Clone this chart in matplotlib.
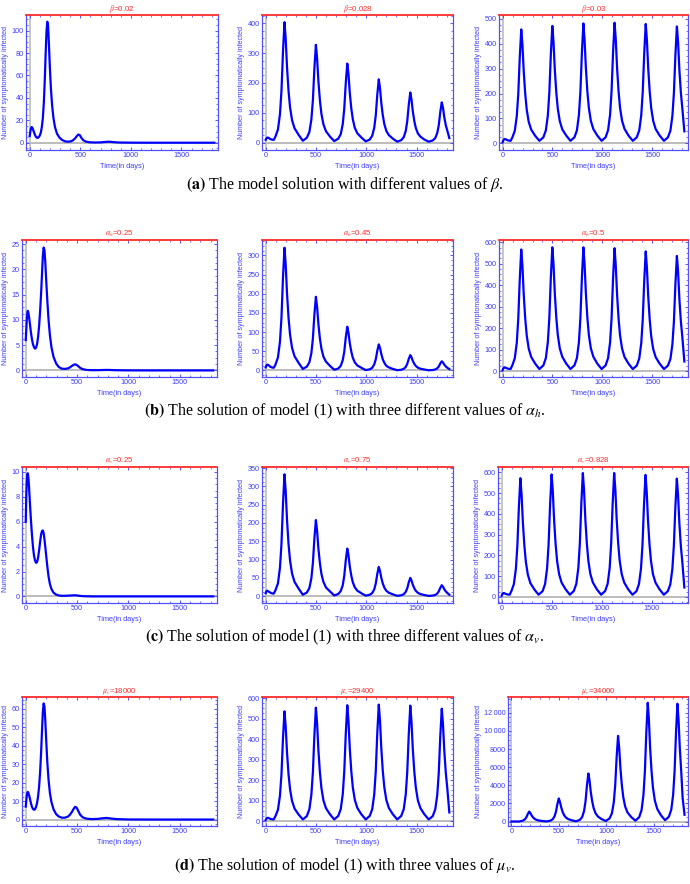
import matplotlib
matplotlib.use("Agg")
import matplotlib.pyplot as plt
from matplotlib.ticker import MultipleLocator, AutoMinorLocator, FuncFormatter

plt.rcParams["font.family"] = ["Liberation Sans", "DejaVu Sans"]
plt.rcParams["mathtext.fontset"] = "stix"

# time grid for the oscillating runs (denser around each outbreak peak)
t_cycle = [0, 6, 14, 22, 32, 45, 60, 80,
           97, 122, 142, 157, 172, 187, 199, 212, 227, 242, 262, 287, 327,
           369, 409, 434, 454, 469, 484, 499, 511, 524, 539, 554, 574, 599, 639,
           681, 721, 746, 766, 781, 796, 811, 823, 836, 851, 866, 886, 911, 951,
           994, 1034, 1059, 1079, 1094, 1109, 1124, 1136, 1149, 1164, 1179, 1199, 1224, 1264,
           1307, 1347, 1372, 1392, 1407, 1422, 1437, 1449, 1462, 1477, 1492, 1512, 1537, 1577,
           1620, 1660, 1685, 1705, 1720, 1735, 1750, 1762, 1775, 1790, 1805, 1825]

# time grid for the runs that die out
t_fade = [0, 5, 10, 15, 20, 25, 32, 40, 50, 60, 70, 80, 90, 100, 110, 120, 130, 140, 150, 158,
          166, 174, 182, 190, 200, 210, 222, 235, 250, 270, 295, 320, 350, 380, 410, 430, 450, 465,
          480, 495, 510, 530, 555, 590, 640, 700, 750, 780, 800, 830, 880, 1000, 1200, 1500, 1825]

# (a) beta
beta_002 = [6, 9, 12, 13.5, 14, 13.5, 12, 10, 7.5, 5.5, 4.5, 4.3, 5, 6.5, 9, 14, 22, 36, 58, 80,
            99, 108, 104, 88, 66, 48, 33, 22, 14, 8, 4.5, 2.5, 1.2, 0.9, 1.3, 2.3, 4, 5.8,
            7.3, 6.8, 4.5, 2.2, 1, 0.4, 0.2, 0.3, 0.7, 0.9, 0.8, 0.5, 0.2, 0.05, 0, 0, 0]
beta_0028 = [9, 13, 16, 17, 15, 12, 10, 9,
             20, 44, 95, 174, 305, 404, 349, 254, 174, 119, 75, 48, 26,
             6, 16, 35, 77, 141, 248, 328, 283, 206, 141, 96, 61, 38, 20,
             5, 13, 28, 62, 114, 200, 265, 229, 166, 114, 78, 49, 31, 17,
             4, 10, 23, 50, 91, 160, 212, 183, 133, 91, 62, 39, 25, 13,
             3, 8, 18, 39, 72, 127, 168, 145, 105, 72, 49, 31, 20, 10,
             3, 7, 15, 32, 58, 102, 135, 117, 85, 58, 40, 15]
beta_003 = [4, 11, 16, 17, 16, 13, 11, 10,
            23, 50, 109, 198, 346, 458, 395, 288, 198, 135, 86, 55, 30,
            10, 24, 52, 112, 204, 357, 472, 407, 296, 204, 139, 89, 56, 31,
            10, 24, 52, 114, 208, 364, 482, 416, 303, 208, 142, 90, 57, 31,
            10, 24, 53, 115, 210, 366, 485, 419, 305, 210, 143, 91, 58, 31,
            10, 24, 52, 113, 207, 363, 480, 414, 301, 207, 142, 90, 57, 31,
            10, 24, 51, 111, 203, 355, 470, 406, 295, 203, 139, 48]

# (b) alpha_h
alpha_h_025 = [6, 8, 10, 11.3, 11.8, 11.5, 10.6, 9.3, 7.6, 6.2, 5.2, 4.6, 4.3, 4.5, 5.2, 6.6, 8.8, 11.8,
               15.5, 19, 22.5, 24.3, 23.8, 21.5, 17.5, 13.8, 10, 7, 4.6, 2.7, 1.4, 0.7, 0.35, 0.3,
               0.4, 0.6, 0.9, 1.1, 1.2, 1.1, 0.85, 0.5, 0.25, 0.1, 0.05, 0.05, 0.08, 0.1, 0.1, 0.08,
               0.04, 0.01, 0, 0, 0]
alpha_h_045 = [8, 12, 15, 15, 13, 10, 8, 7,
               15, 34, 75, 138, 242, 320, 276, 201, 138, 94, 59, 37, 20,
               4, 10, 21, 45, 83, 145, 192, 166, 121, 83, 57, 36, 23, 12,
               2, 5, 12, 27, 49, 86, 114, 98, 71, 49, 33, 21, 13, 7,
               1, 3, 7, 16, 29, 51, 68, 59, 43, 29, 20, 12, 8, 4,
               0.7, 1.9, 4.2, 9.3, 17.2, 30.2, 40, 34.5, 25.1, 17.2, 11.7, 7.4, 4.6, 2.5,
               0.5, 1.2, 2.6, 5.7, 10.4, 18.1, 24, 20.7, 15.1, 10.4, 7.1, 3.5]
alpha_h_05 = [5, 12, 17, 18, 16, 13, 11, 10,
              27, 60, 132, 244, 427, 566, 488, 355, 244, 166, 105, 66, 35,
              10, 27, 61, 135, 248, 435, 576, 497, 361, 248, 168, 106, 67, 35,
              10, 27, 61, 135, 248, 435, 576, 497, 361, 248, 168, 106, 67, 35,
              10, 27, 61, 134, 246, 432, 572, 493, 358, 246, 167, 106, 66, 35,
              10, 26, 59, 130, 240, 420, 557, 480, 349, 240, 163, 103, 65, 35,
              10, 26, 57, 126, 231, 405, 536, 462, 336, 231, 157, 45]

# (c) alpha_v
alpha_v_025 = [6, 8, 9.2, 9.8, 9.9, 9.6, 8.8, 7.6, 6.2, 5, 4, 3.3, 2.9, 2.7, 2.75, 3.1, 3.7, 4.4,
               5, 5.25, 5.3, 5.1, 4.6, 4, 3.2, 2.4, 1.6, 1, 0.6, 0.3, 0.15, 0.08, 0.05, 0.05,
               0.06, 0.07, 0.08, 0.09, 0.09, 0.08, 0.06, 0.04, 0.02, 0.01, 0, 0, 0, 0, 0, 0,
               0, 0, 0, 0, 0]
alpha_v_075 = [8, 13, 15, 14, 12, 10, 8, 7,
               16, 35, 78, 143, 251, 333, 287, 209, 143, 98, 62, 39, 21,
               4, 10, 22, 49, 90, 157, 208, 179, 130, 90, 61, 39, 24, 13,
               2, 6, 14, 30, 56, 98, 130, 112, 81, 56, 38, 24, 15, 8,
               1.5, 3.9, 8.6, 18.8, 34.5, 60.4, 80, 69, 50.2, 34.5, 23.5, 14.8, 9.4, 5.0,
               1, 2.5, 5.4, 11.8, 21.6, 37.8, 50, 43.1, 31.4, 21.6, 14.7, 9.3, 5.9, 3.2,
               0.8, 1.7, 3.4, 7.2, 13.1, 22.7, 30, 25.9, 18.9, 13.1, 9.0, 4.0]
alpha_v_0828 = [5, 12, 17, 18, 16, 13, 11, 10,
                27, 61, 134, 246, 432, 572, 493, 358, 246, 167, 106, 66, 35,
                10, 27, 62, 138, 254, 445, 590, 509, 370, 254, 172, 109, 68, 36,
                10, 28, 63, 139, 257, 450, 597, 515, 374, 257, 174, 110, 69, 36,
                10, 28, 63, 139, 257, 450, 597, 515, 374, 257, 174, 110, 69, 36,
                10, 27, 62, 137, 253, 444, 588, 507, 368, 253, 172, 108, 68, 36,
                10, 27, 60, 133, 245, 430, 570, 492, 357, 245, 167, 45]

# (d) mu_v
mu_v_18000 = [7, 10, 13, 14.5, 15, 14.6, 13.3, 11.5, 9, 7, 5.8, 5.3, 5.6, 6.8, 9, 12.5, 18, 26,
              37, 48, 58, 63, 61.5, 54, 42, 31, 21.5, 14.5, 9.5, 5.6, 3, 1.7, 1, 1, 1.6, 2.6,
              4.2, 5.7, 6.9, 6.5, 4.8, 2.6, 1.2, 0.5, 0.25, 0.35, 0.7, 0.85, 0.8, 0.55, 0.25,
              0.05, 0, 0, 0]
mu_v_29400 = [5, 11, 15, 16, 14, 11, 9, 8,
              24, 55, 124, 229, 403, 535, 461, 335, 229, 156, 98, 61, 32,
              8, 24, 57, 128, 237, 417, 553, 477, 346, 237, 161, 101, 63, 33,
              8, 25, 58, 131, 242, 426, 565, 487, 353, 242, 164, 103, 64, 33,
              8, 25, 58, 131, 243, 428, 568, 490, 355, 243, 165, 103, 64, 33,
              8, 25, 58, 130, 241, 424, 563, 485, 352, 241, 164, 102, 64, 33,
              8, 24, 57, 127, 235, 413, 548, 472, 343, 235, 159, 42]
mu_v_34000 = [5, 8, 10, 10, 9, 8, 7, 7,
              43, 108, 250, 468, 828, 1100, 947, 686, 468, 315, 195, 119, 59,
              15, 91, 243, 573, 1080, 1916, 2550, 2195, 1587, 1080, 725, 446, 269, 129,
              30, 188, 504, 1189, 2243, 3983, 5300, 4562, 3297, 2243, 1506, 926, 557, 267,
              60, 342, 905, 2126, 4004, 7103, 9450, 8135, 5882, 4004, 2689, 1656, 999, 483,
              100, 490, 1270, 2960, 5560, 9850, 13100, 11280, 8160, 5560, 3740, 2310, 1400, 685,
              150, 536, 1307, 2977, 5547, 9788, 13000, 11201, 8117, 5547, 2600, 750]

titles = [r"$\beta$=0.02", r"$\beta$=0.028", r"$\beta$=0.03",
          r"$\alpha_h$=0.25", r"$\alpha_h$=0.45", r"$\alpha_h$=0.5",
          r"$\alpha_v$=0.25", r"$\alpha_v$=0.75", r"$\alpha_v$=0.828",
          r"$\mu_v$=18000", r"$\mu_v$=29400", r"$\mu_v$=34000"]

captions = [r"$\mathbf{(a)}$ The model solution with different values of $\beta$.",
            r"$\mathbf{(b)}$ The solution of model (1) with three different values of $\alpha_h$.",
            r"$\mathbf{(c)}$ The solution of model (1) with three different values of $\alpha_v$.",
            r"$\mathbf{(d)}$ The solution of model (1) with three values of $\mu_v$."]

series = [(t_fade, beta_002), (t_cycle, beta_0028), (t_cycle, beta_003),
          (t_fade, alpha_h_025), (t_cycle, alpha_h_045), (t_cycle, alpha_h_05),
          (t_fade, alpha_v_025), (t_cycle, alpha_v_075), (t_cycle, alpha_v_0828),
          (t_fade, mu_v_18000), (t_cycle, mu_v_29400), (t_cycle, mu_v_34000)]

# panel frames in pixels: left, top, right, bottom  + y range and major step
W, H = 690, 884
frames = [(26, 15, 218, 150, (-6.5, 114), 20), (262, 15, 453, 150, (-25, 428), 100),
          (499, 15, 688, 150, (-27, 516), 100),
          (22, 240, 217, 377, (-1.3, 25.8), 5), (262, 240, 453, 377, (-17, 340), 50),
          (499, 240, 688, 377, (-27, 610), 100),
          (22, 467, 217, 603, (-0.53, 10.4), 2), (262, 467, 453, 603, (-18.6, 353), 50),
          (498, 467, 688, 603, (-30, 626), 100),
          (22, 697, 217, 826, (-3.5, 66.5), 10), (262, 697, 453, 826, (-24, 605), 100),
          (508, 697, 688, 826, (-490, 13740), 2000)]
caption_y = [185, 411, 637, 866]

blue = "#0000ff"
label_blue = "#3c3cff"
red = "#ff2a2a"


def thousands(v, pos):
    if abs(v) >= 10000:
        s = "%d" % v
        return s[:-3] + "\u2009" + s[-3:]
    return "%d" % v if v == int(v) else "%g" % v


fig = plt.figure(figsize=(W / 100, H / 100), dpi=100)

for i, (l, t, r, b, ylim, ystep) in enumerate(frames):
    ax = fig.add_axes([l / W, 1 - b / H, (r - l) / W, (b - t) / H])
    x, y = series[i]
    ax.axhline(0, color="#bcbcbc", lw=1.4, zorder=1)
    ax.axvline(0, color="#bcbcbc", lw=1.2, zorder=1)
    ax.plot(x, y, color=blue, lw=1.6, zorder=3)
    ax.set_xlim(-36.5, 1861.5)
    ax.set_ylim(*ylim)
    ax.xaxis.set_major_locator(MultipleLocator(500))
    ax.xaxis.set_minor_locator(MultipleLocator(100))
    ax.yaxis.set_major_locator(MultipleLocator(ystep))
    ax.yaxis.set_minor_locator(AutoMinorLocator(4))
    ax.yaxis.set_major_formatter(FuncFormatter(thousands))
    ax.tick_params(which="both", direction="in", top=True, right=True,
                   colors=label_blue, labelsize=5.2, pad=1.5)
    ax.tick_params(which="major", length=2.5, width=0.6)
    ax.tick_params(which="minor", length=1.3, width=0.5)
    for side in ["left", "right", "bottom"]:
        ax.spines[side].set_color("#5050ff")
        ax.spines[side].set_linewidth(0.9)
    ax.spines["top"].set_color(red)
    ax.spines["top"].set_linewidth(1.3)
    ax.set_title(titles[i], color=red, fontsize=5.6, pad=3)
    ax.set_xlabel("Time(in days)", color=label_blue, fontsize=5.3, labelpad=3)
    ax.set_ylabel("Number of symptomatically infected", color=label_blue, fontsize=5.1, labelpad=2)

for cap, cy in zip(captions, caption_y):
    fig.text(0.5, 1 - cy / H, cap, ha="center", va="center", fontsize=11.5,
             family=["Liberation Serif", "DejaVu Serif"])

fig.savefig("out.png", dpi=100)
